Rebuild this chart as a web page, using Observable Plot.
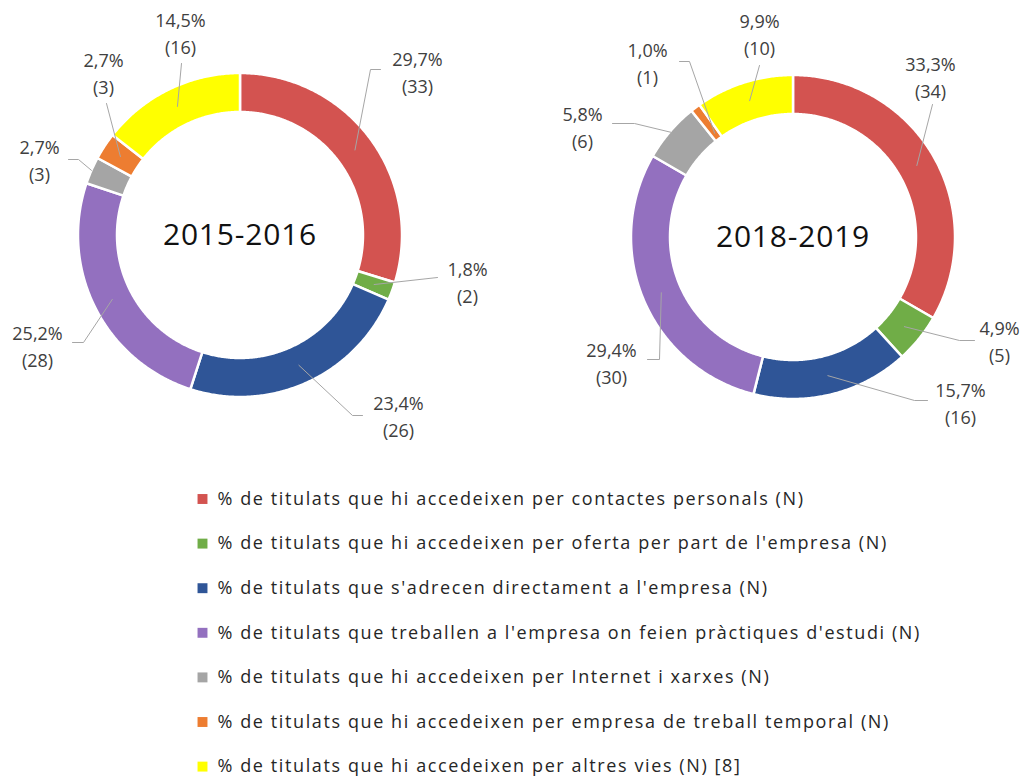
<!DOCTYPE html>
<html>
<head>
<meta charset="utf-8">
<script src="https://cdn.jsdelivr.net/npm/d3@7"></script>
<script src="https://cdn.jsdelivr.net/npm/@observablehq/plot@0.6"></script>
<style>
  html, body { margin: 0; padding: 0; background: #fff; }
  #chart { width: 1024px; height: 783px; }
</style>
</head>
<body>
<div id="chart"></div>
<script>
// ---- DATA ----
const categories = [
  "% de titulats que hi accedeixen per contactes personals (N)",
  "% de titulats que hi accedeixen per oferta per part de l'empresa (N)",
  "% de titulats que s'adrecen directament a l'empresa (N)",
  "% de titulats que treballen a l'empresa on feien pràctiques d'estudi (N)",
  "% de titulats que hi accedeixen per Internet i xarxes (N)",
  "% de titulats que hi accedeixen per empresa de treball temporal (N)",
  "% de titulats que hi accedeixen per altres vies (N) [8]"
];
const colors = ["#d35350", "#70ad47", "#2f5597", "#9370bf", "#a5a5a5", "#ed7d31", "#ffff00"];
const periods = ["2015-2016", "2018-2019"];
const pct2015 = [29.7, 1.8, 23.4, 25.2, 2.7, 2.7, 14.5];
const n2015 = [33, 2, 26, 28, 3, 3, 16];
const pct2018 = [33.3, 4.9, 15.7, 29.4, 5.8, 1.0, 9.9];
const n2018 = [34, 5, 16, 30, 6, 1, 10];

// ---- LAYOUT (annotation placement, separate from data) ----
const W = 1024, H = 783;
const layout = {
  centers: [[239.5, 234.5], [792.5, 236.5]],
  rOuter: 162, rInner: 123, rLeader: 143,
  labels: [
    [
      {label: [177.5, -164.5], elbow: [130.5, -165.5], end: [140.5, -165.5]},
      {label: [227.5, 45.5], elbow: [197.5, 42.5]},
      {label: [158.5, 179.5], elbow: [112.5, 180.5], end: [122.5, 180.5]},
      {label: [-202.5, 109.5], elbow: [-156.5, 107.5], end: [-167.5, 107.5]},
      {label: [-200.5, -76.5], elbow: [-161.5, -75.5], end: [-171.5, -75.5], r0: 162},
      {label: [-136.5, -163.5], elbow: [-133.5, -131.5]},
      {label: [-59.5, -203.5], elbow: [-58.5, -171.5]}
    ],
    [
      {label: [137.5, -161.5], elbow: [139.5, -132.5]},
      {label: [206.5, 102.5], elbow: [166.5, 103.5], end: [181.5, 103.5]},
      {label: [167.5, 164.5], elbow: [121.5, 163.5], end: [134.5, 163.5]},
      {label: [-181.5, 124.5], elbow: [-133.5, 122.5], end: [-145.5, 122.5]},
      {label: [-210.5, -111.5], elbow: [-158.5, -113.5], end: [-180.5, -113.5], r0: 161},
      {label: [-145.5, -175.5], elbow: [-103.5, -175.5], end: [-113.5, -175.5], r0: 130},
      {label: [-33.5, -204.5], elbow: [-33.5, -171.5]}
    ]
  ],
  legend: {x: 202, textX: 217, top: 498.5, gap: 44.6}
};

const series = [
  {period: periods[0], pct: pct2015, n: n2015},
  {period: periods[1], pct: pct2018, n: n2018}
];

const fmtPct = v => v.toFixed(1).replace(".", ",") + "%";
const polar = (c, r, a) => [c[0] + r * Math.sin(a), c[1] - r * Math.cos(a)];

const slicePts = [], leaderPts = [], labelRows = [], centerRows = [];
series.forEach((s, ci) => {
  const c = layout.centers[ci];
  const total = d3.sum(s.n);
  let cum = 0;
  centerRows.push({x: c[0], y: c[1], text: s.period});
  s.n.forEach((v, i) => {
    const a0 = 2 * Math.PI * cum / total;
    const a1 = 2 * Math.PI * (cum + v) / total;
    cum += v;
    const id = ci + "-" + i;
    const steps = Math.max(2, Math.ceil((a1 - a0) / (Math.PI / 360)));
    for (let k = 0; k <= steps; k++) {
      const [x, y] = polar(c, layout.rOuter, a0 + (a1 - a0) * k / steps);
      slicePts.push({id, x, y, color: colors[i]});
    }
    for (let k = steps; k >= 0; k--) {
      const [x, y] = polar(c, layout.rInner, a0 + (a1 - a0) * k / steps);
      slicePts.push({id, x, y, color: colors[i]});
    }
    const L = layout.labels[ci][i];
    const am = (a0 + a1) / 2;
    const [sx, sy] = polar(c, L.r0 || layout.rLeader, am);
    leaderPts.push({id, x: sx, y: sy});
    leaderPts.push({id, x: c[0] + L.elbow[0], y: c[1] + L.elbow[1]});
    if (L.end) leaderPts.push({id, x: c[0] + L.end[0], y: c[1] + L.end[1]});
    labelRows.push({x: c[0] + L.label[0], y: c[1] + L.label[1], text: fmtPct(s.pct[i]) + "\n(" + v + ")"});
  });
});

const legendRows = categories.map((name, i) => ({
  name, color: colors[i],
  y: layout.legend.top + i * layout.legend.gap
}));

const plot = Plot.plot({
  width: W, height: H,
  margin: 0,
  x: {domain: [0, W], range: [0, W], axis: null},
  y: {domain: [0, H], range: [0, H], axis: null},
  color: {type: "identity"},
  style: {fontFamily: "'Open Sans', sans-serif", background: "#fff"},
  marks: [
    Plot.line(slicePts, {x: "x", y: "y", z: "id", fill: "color", stroke: "white", strokeWidth: 2.5, curve: "linear-closed"}),
    Plot.line(leaderPts, {x: "x", y: "y", z: "id", stroke: "#a6a6a6", strokeWidth: 1}),
    Plot.text(labelRows, {x: "x", y: "y", text: "text", fontSize: 18, lineHeight: 1.5, fill: "#404040"}),
    Plot.text(centerRows, {x: "x", y: "y", text: "text", fontSize: 30, fill: "#111", ariaLabel: () => "center-text"}),
    Plot.dot(legendRows, {x: () => layout.legend.x, y: "y", symbol: "square", r: 5.6, fill: "color", stroke: null}),
    Plot.text(legendRows, {x: () => layout.legend.textX, y: "y", text: "name", textAnchor: "start", fontSize: 18, fill: "#262626", ariaLabel: () => "legend-text"})
  ]
});
document.getElementById("chart").appendChild(plot);
d3.select(plot).selectAll('[aria-label="legend-text"]').style("letter-spacing", "1.6px");
d3.select(plot).selectAll('[aria-label="center-text"]').style("letter-spacing", "0.8px");
</script>
</body>
</html>
